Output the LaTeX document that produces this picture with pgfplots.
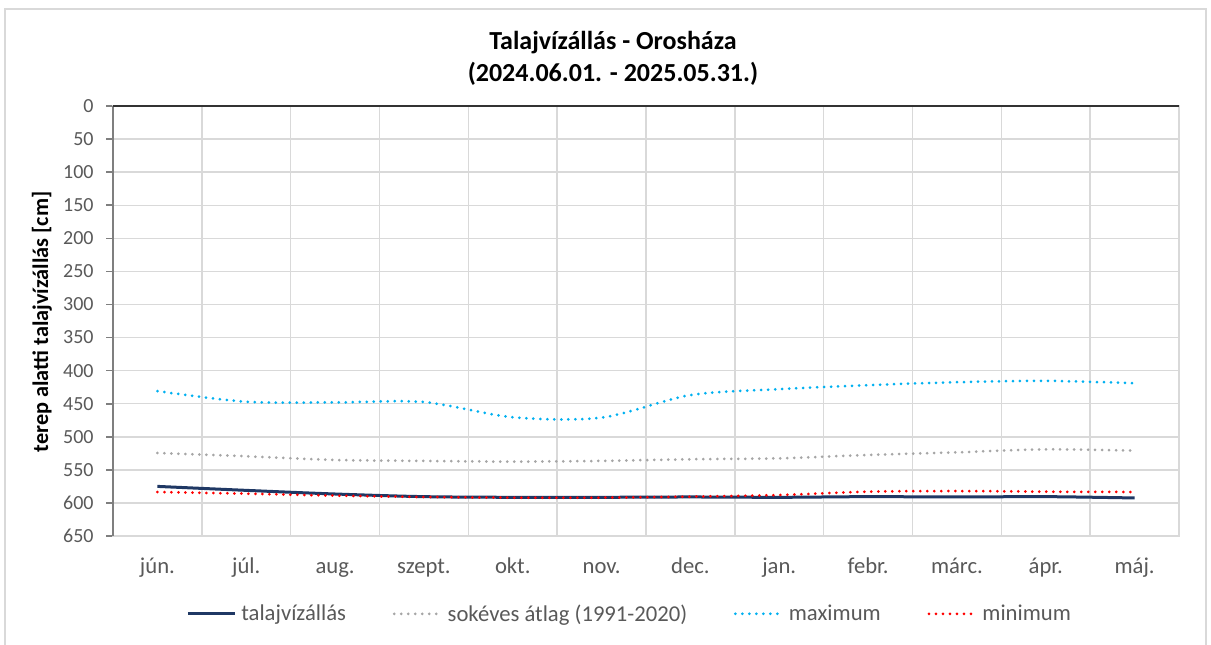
\documentclass[border=0pt]{standalone}
\usepackage{fontspec}
\setmainfont{Carlito}
\usepackage{pgfplots}
\pgfplotsset{compat=1.18}
\definecolor{navy}{HTML}{1F3864}
\definecolor{avggray}{HTML}{A6A6A6}
\definecolor{maxblue}{HTML}{00B0F0}
\definecolor{minred}{HTML}{FF0000}
\definecolor{txtgray}{HTML}{595959}
\definecolor{gridgray}{HTML}{D9D9D9}
\definecolor{axisgray}{HTML}{7F7F7F}

\begin{document}
\begin{tikzpicture}[x=0.75pt,y=0.75pt]
\useasboundingbox (-113,-108) rectangle (1098,536);
\draw[gridgray, line width=1.5pt] (-108,-115) -- (-108,527) -- (1093,527) -- (1093,-115);
\begin{axis}[
    at={(0,0)}, anchor=south west,
    scale only axis,
    width=799.5pt, height=322.5pt,
    xmin=0, xmax=12,
    ymin=0, ymax=650,
    y dir=reverse,
    xtick={0.5,1.5,...,11.5},
    xticklabels={jún.,júl.,aug.,szept.,okt.,nov.,dec.,jan.,febr.,márc.,ápr.,máj.},
    minor xtick={0,1,...,12},
    xminorgrids,
    major x tick style={draw=none},
    minor tick length=0pt,
    ytick={0,50,...,650},
    ymajorgrids,
    ytick pos=left,
    tick align=outside,
    major tick length=5pt,
    y tick style={axisgray, line width=1.2pt},
    grid style={gridgray, line width=1.1pt},
    minor grid style={gridgray, line width=1.1pt},
    axis line style={gridgray, line width=1.1pt},
    /pgf/number format/assume math mode=true,
    yticklabel style={font=\fontsize{15}{18}\selectfont, text=txtgray, xshift=-6pt},
    xticklabel style={font=\fontsize{17}{20}\selectfont, text=txtgray, anchor=base, yshift=-23pt},
    title={Talajvízállás - Orosháza\\(2024.06.01. - 2025.05.31.)},
    title style={font=\fontsize{19.5}{24}\selectfont\bfseries, align=center,
        at={(axis description cs:0.469,1.093)}, anchor=center},
    ylabel={terep alatti talajvízállás [cm]},
    ylabel style={font=\fontsize{16.7}{20}\selectfont\bfseries,
        at={(axis description cs:-0.0666,0.498)}, anchor=center, rotate=0},
    legend columns=4,
    legend style={draw=none, fill=none, font=\fontsize{17}{20}\selectfont, text=txtgray,
        at={(axis description cs:0.485,-0.181)}, anchor=center,
        /tikz/every odd column/.append style={column sep=2pt},
        /tikz/every even column/.append style={column sep=33pt}},
    legend image code/.code={\draw[#1] (0pt,0pt) -- (35pt,0pt);},
]
\addplot[navy, line width=2.25pt, smooth] coordinates {
    (0.5,575) (1.5,581) (2.5,586.5) (3.5,590.5) (4.5,591.5) (5.5,591.5)
    (6.5,591) (7.5,591.5) (8.5,590.5) (9.5,591) (10.5,590.5) (11.5,592.5)
};
\addplot[avggray, line width=2.25pt, smooth, line cap=round, dash pattern=on 0pt off 5.25pt] coordinates {
    (0.5,524.5) (1.5,529.5) (2.5,535) (3.5,536.5) (4.5,537.5) (5.5,536.5)
    (6.5,534) (7.5,532.5) (8.5,527.5) (9.5,523.5) (10.5,519) (11.5,521)
};
\addplot[maxblue, line width=2.25pt, smooth, line cap=round, dash pattern=on 0pt off 5.25pt] coordinates {
    (0.5,431) (1.5,447) (2.5,448) (3.5,447.5) (4.5,470.5) (5.5,471)
    (6.5,437) (7.5,428) (8.5,422) (9.5,417.5) (10.5,415.5) (11.5,419)
};
\addplot[minred, line width=2.25pt, smooth, line cap=round, dash pattern=on 0pt off 5.25pt] coordinates {
    (0.5,583.5) (1.5,586) (2.5,589) (3.5,591) (4.5,592) (5.5,592)
    (6.5,590.5) (7.5,588) (8.5,583) (9.5,582) (10.5,583) (11.5,583.5)
};
\legend{talajvízállás, sokéves átlag (1991-2020), maximum, minimum}
\end{axis}
\draw[axisgray, line width=1.5pt] (0,0) -- (0,430);
\draw[black!80, line width=1.2pt] (0,430) -- (1066,430);
\end{tikzpicture}
\end{document}
